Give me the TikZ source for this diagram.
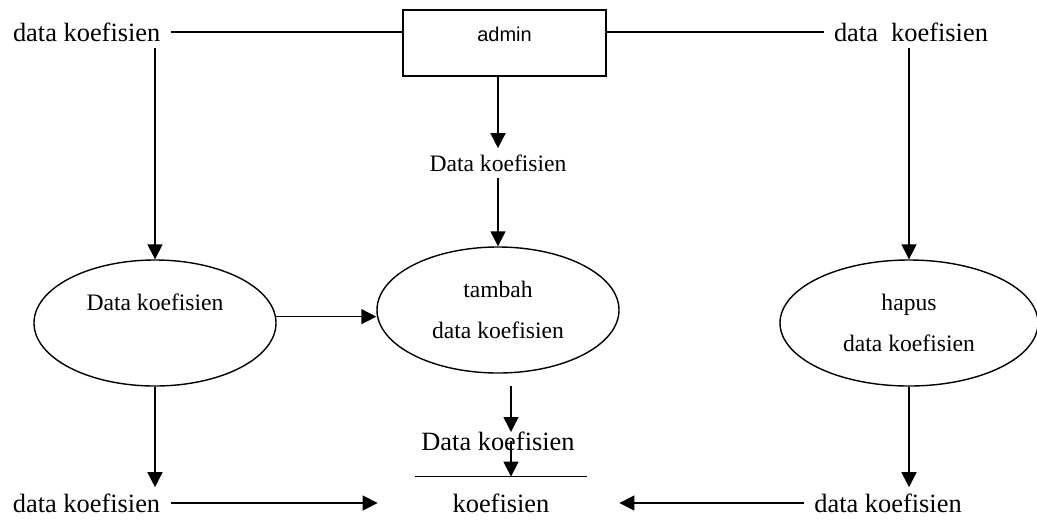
\documentclass[tikz,border=0pt]{standalone}
\usepackage{fontspec}
\setmainfont{Liberation Serif}
\newfontfamily\arialf{Liberation Sans}
\usetikzlibrary{shapes.geometric,arrows.meta,calc}
\begin{document}
\begin{tikzpicture}[x=0.5pt,y=-0.5pt,
  lbl/.style={font=\fontsize{13.2}{16}\selectfont, inner xsep=5pt, inner ysep=3pt},
  sml/.style={font=\fontsize{11.8}{16}\selectfont, inner xsep=5pt, inner ysep=3pt},
  proc/.style={ellipse, draw, line width=0.7pt, minimum width=121pt, minimum height=63pt,
    inner sep=0pt, align=center, font=\fontsize{11.8}{20.5}\selectfont},
  ent/.style={draw, line width=0.8pt, inner sep=0pt, minimum width=101.5pt,
    text height=16pt, text depth=17pt, font=\arialf\fontsize{10}{12}\selectfont},
  ln/.style={line width=0.75pt},
  arr/.style={ln, -{Triangle[length=7.5pt,width=7.5pt]}}]
\path[use as bounding box] (0,0) rectangle (1037,521);

% nodes
\node[ent, anchor=north] (admin) at (504.5,9) {admin};
\node[lbl] (tl) at (86.7,32) {data koefisien};
\node[lbl] (tr) at (911,32) {data~~koefisien};
\node[sml] (m1) at (498,163) {Data koefisien};
\node[proc] (dk) at (155,323) {Data koefisien\\\mbox{}};
\node[proc] (tb) at (498,310) {tambah\\data koefisien};
\node[proc, minimum width=129pt] (hp) at (909,323) {hapus\\data koefisien};
\node[lbl] (m2) at (498,441) {Data koefisien};
\node[lbl, minimum width=86pt, minimum height=26pt, inner sep=0pt] (store) at (501,503) {koefisien};
\node[lbl] (bl) at (86.5,503) {data koefisien};
\node[lbl] (br) at (888,503) {data koefisien};
\coordinate (tbout) at (511,386);
\coordinate (m2in) at (511,432);

% store line
\draw[ln] (store.north west) -- (store.north east);

% connectors
\draw[ln] (tl.east) -- (tl.east -| admin.west);
\draw[ln] (admin.east |- tr.west) -- (tr.west);
\draw[arr] (admin.south -| m1.north) -- (m1.north);
\draw[arr] (m1.south) -- (tb.north);
\draw[arr] (tl.south -| dk.north) -- (dk.north);
\draw[arr] (tr.south -| hp.north) -- (hp.north);
\draw[arr] (dk.3) -- (dk.3 -| tb.west);
\draw[arr] (dk.south) -- (dk.south |- bl.north);
\draw[arr] (hp.south) -- (hp.south |- br.north);
\draw[arr] (tbout) -- (m2in);
\draw[arr] (m2.center -| tbout) -- (store.north -| tbout);
\draw[arr, shorten >=18.5pt] (bl.east) -- (store.west);
\draw[arr, shorten >=16pt] (br.west) -- (store.east);
\end{tikzpicture}
\end{document}
